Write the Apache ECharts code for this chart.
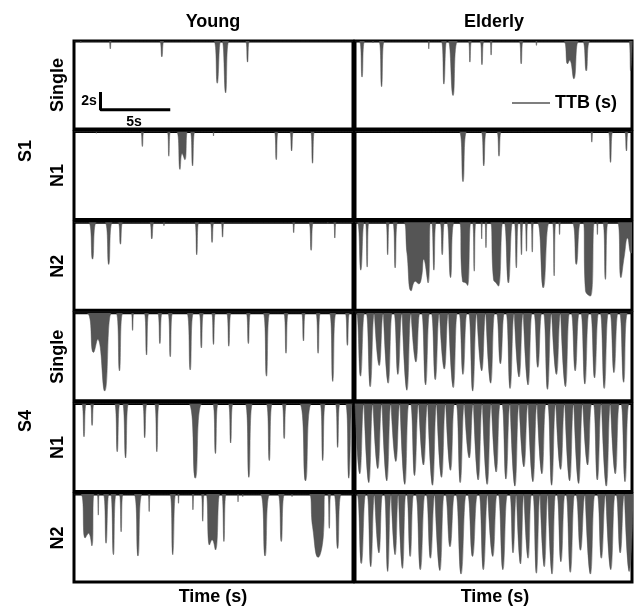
<!DOCTYPE html>
<html>
<head>
<meta charset="utf-8">
<script src="https://cdn.jsdelivr.net/npm/echarts@6/dist/echarts.min.js"></script>
<style>
html, body { margin: 0; padding: 0; background: #fff; }
#chart { width: 635px; height: 609px; }
</style>
</head>
<body>
<div id="chart"></div>
<script>
const columns = ['Young', 'Elderly'];
const rowLabels = ['Single', 'N1', 'N2', 'Single', 'N1', 'N2'];
const groupLabels = ['S1', 'S4'];
const xLabel = 'Time (s)';
const seriesName = 'TTB (s)';

// each spike: [time (s), depth (s), width (s)], or a list of [time, depth] points for merged spikes
const youngS1Single = [[0.49, 0.2, 0.12], [2.6, 0.9, 0.2], [6.3, 1.8, 0.35], [10.27, 4.8, 0.5], [10.87, 5.9, 0.5], [12.44, 2.4, 0.3]];
const elderlyS1Single = [[0.51, 4.1, 0.4], [1.3, 0.2, 0.1], [1.92, 5.2, 0.4], [5.33, 0.9, 0.15], [6.42, 4.9, 0.4], [7.08, 6.2, 0.7],
  [8.3, 2.4, 0.25], [9.17, 2.7, 0.3], [9.83, 1.6, 0.2], [12.0, 2.6, 0.3], [13.1, 0.5, 0.15],
  [[15.05, 0], [15.35, 2.6], [15.5, 2.2], [15.8, 4.3], [16.15, 0]], [16.7, 3.4, 0.55], [19.9, 3.4, 0.25]];

const youngS1N1 = [[1.6, 0.2, 0.1], [4.9, 1.7, 0.25], [6.8, 2.8, 0.25], [[7.35, 0], [7.6, 4.3], [7.75, 2.5], [7.95, 3.2], [8.15, 0]],
  [8.5, 3.9, 0.35], [10.0, 0.5, 0.1], [14.5, 3.2, 0.3], [15.6, 2.2, 0.3], [17.1, 3.6, 0.3]];
const elderlyS1N1 = [[7.8, 5.7, 0.55], [9.3, 3.9, 0.4], [10.4, 2.8, 0.35], [17.1, 1.2, 0.2], [18.45, 3.5, 0.35], [19.6, 2.2, 0.3]];

const youngS1N2 = [[1.33, 4.2, 0.58], [2.49, 4.8, 0.55], [3.33, 2.5, 0.36], [5.58, 1.9, 0.35], [6.45, 0.4, 0.15], [8.8, 3.7, 0.3],
  [9.9, 2.3, 0.3], [10.65, 1.7, 0.25], [15.75, 1.2, 0.2], [17.0, 3.2, 0.35], [18.2, 0.2, 0.1], [18.7, 1.8, 0.2]];
const elderlyS1N2 = [[0.42, 5.45, 0.5], [0.88, 5.1, 0.25], [2.36, 3.7, 0.28], [2.9, 5.2, 0.36],
  [[3.5, 0], [3.75, 3.5], [4.06, 7.8], [4.36, 6.7], [4.6, 7.0], [4.8, 6.3], [4.96, 4.2], [5.28, 6.9], [5.45, 0]],
  [5.7, 5.45, 0.34], [6.3, 3.7, 0.36], [6.9, 6.3, 0.55], [[7.52, 0], [7.76, 6.7], [8.0, 6.9], [8.13, 7.2], [8.37, 0]],
  [8.61, 5.57, 0.25], [9.15, 1.9, 0.15], [9.46, 2.9, 0.2], [[9.76, 0], [10.0, 6.5], [10.19, 6.9], [10.36, 7.27], [10.68, 0]],
  [11.08, 6.9, 0.62], [11.65, 5.2, 0.3], [12.02, 3.7, 0.25], [12.38, 3.3, 0.22], [12.8, 3.4, 0.22], [13.6, 7.46, 0.88],
  [14.38, 6.1, 0.25], [14.77, 1.4, 0.18], [15.98, 4.8, 0.63], [[16.47, 0], [16.64, 7.8], [17.0, 8.4], [17.3, 0]],
  [17.5, 1.4, 0.15], [18.08, 6.5, 0.4], [[18.95, 0], [19.2, 6.3], [19.44, 3.9], [19.68, 1.8], [19.93, 3.5], [20, 3.5]]];

const youngS4Single = [[[0.9, 0], [1.4, 4.5], [1.7, 3.0], [2.2, 8.9], [2.7, 0]], [3.26, 6.6, 0.5], [4.2, 2.0, 0.2], [5.2, 4.8, 0.35],
  [6.16, 3.5, 0.35], [6.9, 5.0, 0.35], [8.33, 6.5, 0.5], [9.13, 4.0, 0.35], [10.0, 3.6, 0.3], [11.1, 3.8, 0.35], [12.5, 3.5, 0.35],
  [13.8, 7.2, 0.5], [15.2, 4.6, 0.35], [16.45, 3.2, 0.3], [17.5, 4.6, 0.35], [18.55, 7.8, 0.5], [19.6, 3.7, 0.35]];
const elderlyS4Single = [[0.4, 7.2, 0.6], [1.1, 8.4, 0.6], [1.75, 6.0, 0.6], [2.4, 8.0, 0.6], [3.1, 7.0, 0.6], [3.75, 8.8, 0.6],
  [4.4, 5.6, 0.6], [5.1, 8.2, 0.6], [5.8, 7.6, 0.6], [6.45, 6.4, 0.6], [7.1, 8.5, 0.6], [7.8, 7.0, 0.6], [8.5, 8.9, 0.6],
  [9.15, 6.6, 0.6], [9.8, 8.0, 0.6], [10.5, 5.8, 0.6], [11.2, 8.6, 0.6], [11.85, 7.3, 0.6], [12.5, 8.2, 0.6], [13.2, 6.2, 0.6],
  [13.9, 8.7, 0.6], [14.55, 7.0, 0.6], [15.2, 8.4, 0.6], [15.9, 6.6, 0.6], [16.6, 8.1, 0.6], [17.3, 7.4, 0.6], [18.0, 8.6, 0.6],
  [18.7, 6.8, 0.6], [19.4, 7.9, 0.6]];

const youngS4N1 = [[0.72, 3.8, 0.35], [1.3, 2.5, 0.3], [3.1, 5.5, 0.4], [3.7, 6.2, 0.45], [5.07, 3.9, 0.35], [5.94, 5.5, 0.35],
  [8.7, 8.5, 1.0], [10.14, 5.7, 0.4], [11.23, 4.5, 0.35], [12.54, 8.4, 0.55], [14.0, 6.5, 0.45], [15.07, 4.0, 0.35],
  [16.6, 8.8, 0.9], [17.83, 6.5, 0.4], [18.9, 5.0, 0.35], [19.7, 8.5, 0.5]];
const elderlyS4N1 = [[0.35, 8.0, 0.6], [1.0, 9.0, 0.6], [1.65, 7.4, 0.6], [2.3, 8.8, 0.6], [2.95, 6.6, 0.6], [3.6, 9.2, 0.6],
  [4.3, 8.2, 0.6], [4.95, 7.0, 0.6], [5.6, 9.3, 0.6], [6.25, 8.4, 0.6], [6.9, 7.6, 0.6], [7.6, 9.0, 0.6], [8.25, 6.2, 0.6],
  [8.9, 8.7, 0.6], [9.55, 9.2, 0.6], [10.2, 7.8, 0.6], [10.9, 8.6, 0.6], [11.55, 9.4, 0.6], [12.2, 7.2, 0.6], [12.85, 8.9, 0.6],
  [13.5, 8.0, 0.6], [14.2, 9.3, 0.6], [14.85, 7.5, 0.6], [15.5, 8.8, 0.6], [16.15, 9.1, 0.6], [16.8, 7.0, 0.6], [17.5, 8.7, 0.6],
  [18.15, 9.4, 0.6], [18.8, 8.0, 0.6], [19.5, 8.9, 0.6]];

const youngS4N2 = [[[0.48, 0], [0.8, 5.0], [1.04, 4.47], [1.28, 5.9], [1.45, 0]], [1.74, 2.4, 0.15], [2.3, 5.6, 0.42], [2.83, 6.9, 0.4],
  [3.38, 4.3, 0.28], [4.59, 7.05, 0.6], [5.39, 2.0, 0.17], [7.08, 6.9, 0.43], [7.49, 1.06, 0.14], [8.53, 1.8, 0.17], [9.23, 3.1, 0.24],
  [[9.47, 0], [9.71, 5.8], [9.9, 5.2], [10.14, 6.36], [10.46, 0]], [10.75, 5.4, 0.32], [11.76, 0.9, 0.1], [12.1, 0.3, 0.1],
  [13.7, 7.05, 0.7], [14.86, 5.4, 0.5], [15.63, 0.3, 0.1], [[16.84, 0], [17.1, 3.7], [17.5, 7.2], [17.87, 4.85], [18.0, 0]],
  [18.3, 3.9, 0.24], [18.9, 6.2, 0.55]];
const elderlyS4N2 = [[0.46, 7.9, 0.64], [1.14, 8.26, 0.55], [1.73, 6.7, 0.55], [2.36, 8.8, 0.5], [2.9, 6.9, 0.49], [3.43, 8.45, 0.49],
  [3.99, 7.1, 0.52], [4.72, 8.6, 0.69], [5.45, 7.3, 0.64], [6.13, 8.7, 0.64], [6.86, 6.0, 0.69], [7.66, 9.1, 0.76], [8.49, 7.1, 0.74],
  [9.27, 8.6, 0.64], [9.95, 7.1, 0.64], [10.68, 8.6, 0.69], [11.41, 6.7, 0.5], [11.95, 7.95, 0.5], [12.5, 7.3, 0.51], [13.1, 9.0, 0.53],
  [13.67, 8.26, 0.52], [14.23, 9.1, 0.52], [14.87, 7.7, 0.6], [15.55, 8.9, 0.64], [16.28, 6.4, 0.68], [17.0, 9.1, 0.68],
  [17.79, 7.3, 0.64], [18.47, 8.6, 0.64], [19.15, 6.7, 0.61], [19.8, 8.8, 0.61]];

const panels = [
  [youngS1Single, elderlyS1Single],
  [youngS1N1, elderlyS1N1],
  [youngS1N2, elderlyS1N2],
  [youngS4Single, elderlyS4Single],
  [youngS4N1, elderlyS4N1],
  [youngS4N2, elderlyS4N2],
];

// scale bar: 2 s of TTB, 5 s of time
const scaleBar = [[1.9, 5.8], [1.9, 7.8], [6.9, 7.8]];

function toProfile(spikes) {
  const pts = [[0, 0]];
  spikes.forEach((s) => {
    if (Array.isArray(s[0])) {
      s.forEach((p) => pts.push(p));
    } else {
      pts.push([s[0] - s[2] / 2, 0], [s[0], s[1]], [s[0] + s[2] / 2, 0]);
    }
  });
  if (pts[pts.length - 1][0] < 20) pts.push([20, 0]);
  return pts;
}

const font = 'Liberation Sans, Arial, sans-serif';
const grid = [], xAxis = [], yAxis = [], series = [];
panels.forEach((row, r) => {
  row.forEach((spikes, c) => {
    const i = grid.length;
    grid.push({
      left: c ? 355 : 74,
      top: 41 + r * 90.6,
      width: c ? 277 : 279,
      height: 88,
      show: true,
      backgroundColor: '#fff',
      borderColor: '#000',
      borderWidth: 3,
    });
    xAxis.push({
      gridIndex: i, type: 'value', min: 0, max: 20,
      axisLine: { show: false }, axisTick: { show: false }, axisLabel: { show: false }, splitLine: { show: false },
    });
    yAxis.push({
      gridIndex: i, type: 'value', min: 0, max: 10, inverse: true,
      name: c ? '' : rowLabels[r],
      nameLocation: 'middle',
      nameGap: 7,
      nameTextStyle: { fontSize: 18, fontWeight: 'bold', color: '#000', fontFamily: font },
      axisLine: { show: false }, axisTick: { show: false }, axisLabel: { show: false }, splitLine: { show: false },
    });
    series.push({
      name: seriesName,
      type: 'line',
      xAxisIndex: i,
      yAxisIndex: i,
      data: toProfile(spikes),
      symbol: 'none',
      smooth: 0.5,
      lineStyle: { color: '#555', width: 0.5 },
      itemStyle: { color: '#555' },
      areaStyle: { color: '#555', opacity: 1 },
      silent: true,
    });
  });
});

series.push({
  name: 'scale',
  type: 'line',
  xAxisIndex: 0,
  yAxisIndex: 0,
  data: scaleBar,
  symbol: 'none',
  lineStyle: { color: '#000', width: 3 },
  silent: true,
  z: 5,
});

const text = (t, x, y, size, rot) => ({
  type: 'text', x: x, y: y, rotation: rot || 0, z: 20,
  style: { text: t, fontSize: size, fontWeight: 'bold', fontFamily: font, fill: '#000', align: 'center', verticalAlign: 'middle' },
});

const chart = echarts.init(document.getElementById('chart'));
chart.setOption({
  animation: false,
  backgroundColor: '#fff',
  grid: grid,
  xAxis: xAxis,
  yAxis: yAxis,
  legend: {
    data: [seriesName],
    left: 512,
    top: 94,
    padding: 0,
    icon: 'rect',
    itemWidth: 38,
    itemHeight: 1,
    selectedMode: false,
    itemStyle: { color: '#000' },
    textStyle: { fontSize: 18, fontWeight: 'bold', color: '#000', fontFamily: font },
  },
  graphic: [
    text(columns[0], 213, 22, 18),
    text(columns[1], 494, 22, 18),
    text(xLabel, 213, 597, 18),
    text(xLabel, 495, 597, 18),
    text(groupLabels[0], 26, 151, 18, Math.PI / 2),
    text(groupLabels[1], 26, 421, 18, Math.PI / 2),
    text('2s', 89, 101, 14),
    text('5s', 134, 122, 14),
  ],
  series: series,
});
</script>
</body>
</html>
